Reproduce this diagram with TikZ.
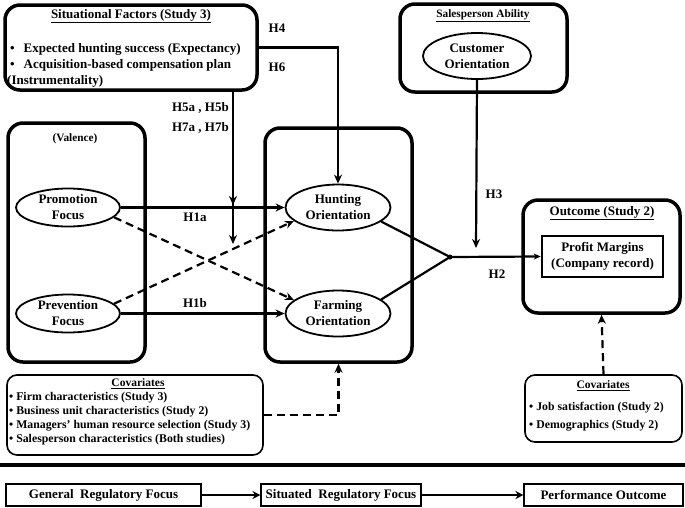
\documentclass[tikz,border=0pt]{standalone}
\usepackage{fontspec}
\setmainfont{Liberation Serif}
\usetikzlibrary{shapes.geometric,arrows.meta}
\newcommand{\fsz}[2]{\fontsize{#1}{#2}\selectfont\bfseries}
\begin{document}
\begin{tikzpicture}[x=1pt,y=-1pt,
  bigbox/.style={draw, line width=3.5pt, rounded corners=15pt, inner sep=0pt},
  covbox/.style={draw, line width=1.6pt, rounded corners=10pt, inner sep=0pt},
  plainbox/.style={draw, line width=1.1pt, inner sep=0pt, minimum height=22pt, font=\fsz{13}{15}},
  oval/.style={ellipse, draw, line width=1.8pt, align=center, inner sep=0pt, font=\fsz{13}{16}},
  conn/.style={line width=2.2pt},
  arr/.style={conn, -{Stealth[length=9pt,width=8pt]}},
  dasharr/.style={arr, dash pattern=on 8pt off 5pt},
  lbl/.style={inner sep=0pt, font=\fsz{13}{15}},
  small/.style={inner sep=0pt, anchor=west, font=\fsz{11.8}{14}}]
\useasboundingbox (0,0) rectangle (685,507);

% containers
\node[bigbox, minimum width=252pt, minimum height=85pt] (sit) at (131,47.5) {};
\node[bigbox, minimum width=137pt, minimum height=239pt] (val) at (76.5,242.5) {};
\node[bigbox, minimum width=147pt, minimum height=234pt] (mid) at (338.5,245) {};
\node[bigbox, minimum width=167pt, minimum height=88pt] (sal) at (483.5,48) {};
\node[bigbox, minimum width=157pt, minimum height=113pt] (out) at (601.5,256.5) {};
\node[covbox, minimum width=256pt, minimum height=80pt] (covL) at (135,415) {};
\node[covbox, minimum width=157pt, minimum height=67pt] (covR) at (603.5,408.5) {};
\node[draw, line width=2.5pt, minimum width=121pt, minimum height=41pt, align=center, inner sep=0pt, font=\fsz{13}{16}] (profit) at (602.5,256.5) {Profit Margins\\(Company record)};

% titles and texts
\node[lbl] (sitT) at (131,16) {\underline{Situational Factors (Study 3)}};
\node[lbl, anchor=west] (sit1) at (10,49) {\textbullet\hspace{9pt}Expected hunting success (Expectancy)};
\node[lbl, anchor=west] (sit2) at (10,65) {\textbullet\hspace{9pt}Acquisition-based compensation plan};
\node[lbl, anchor=west] (sit3) at (7,81) {(Instrumentality)};
\node[inner sep=0pt, font=\fsz{11.3}{13}] (valT) at (75,139) {(Valence)};
\node[inner sep=0pt, font=\fsz{11.3}{13}] (salT) at (483,16) {\underline{Salesperson Ability}};
\node[lbl] (outT) at (602,213) {\underline{Outcome (Study 2)}};

\node[inner sep=0pt, font=\fsz{11.5}{13}] (covLT) at (138,384) {\underline{Covariates}};
\node[small] (cl1) at (9,397.5) {\textbullet\ Firm characteristics (Study 3)};
\node[small] (cl2) at (9,411.5) {\textbullet\ Business unit characteristics (Study 2)};
\node[small] (cl3) at (9,425.5) {\textbullet\ Managers' human resource selection (Study 3)};
\node[small] (cl4) at (9,440) {\textbullet\ Salesperson characteristics (Both studies)};
\node[inner sep=0pt, font=\fsz{11.5}{13}] (covRT) at (603,386) {\underline{Covariates}};
\node[small] (cr1) at (529,408) {\textbullet\ Job satisfaction (Study 2)};
\node[small] (cr2) at (529,426) {\textbullet\ Demographics (Study 2)};

% ellipses
\node[oval, minimum width=104pt, minimum height=38pt] (promo) at (68,207.5) {Promotion\\Focus};
\node[oval, minimum width=104pt, minimum height=38pt] (prev) at (68,313.5) {Prevention\\Focus};
\node[oval, minimum width=105pt, minimum height=46pt] (hunt) at (338,207.5) {Hunting\\Orientation};
\node[oval, minimum width=105pt, minimum height=46pt] (farm) at (338,313.5) {Farming\\Orientation};
\node[oval, minimum width=108pt, minimum height=46pt] (cust) at (477,56) {Customer\\Orientation};

% hypothesis labels
\node[lbl] (h4) at (277,28) {H4};
\node[lbl] (h6) at (277,67) {H6};
\node[lbl, anchor=east] (h5) at (229,108) {H5a , H5b};
\node[lbl, anchor=east] (h7) at (229,128) {H7a , H7b};
\node[lbl] (h1a) at (195,217) {H1a};
\node[lbl] (h1b) at (195,303) {H1b};
\node[lbl] (h3) at (494,194) {H3};
\node[lbl] (h2) at (497,274) {H2};

% connectors
\coordinate (modA) at (233,205);
\coordinate (modB) at (233,244);
\coordinate (h3end) at (476,248);
\coordinate (jn) at (450,257);

\draw[arr] (sit.east) -| (hunt.north);
\draw[arr] (sit.south -| modA) -- (modA);
\draw[arr] (sit.south -| modB) -- (modB);
\draw[arr] (promo.east) -- (hunt.west);
\draw[arr] (prev.east) -- (farm.west);
\draw[dasharr] (promo.-12) -- (farm.163);
\draw[dasharr] (prev.12) -- (hunt.197);
\draw[arr] (cust.south) -- (h3end);
\draw[conn, line join=miter] (hunt.-18) -- (jn) -- (farm.18);
\fill (jn) circle (2.5pt);
\draw[conn, -{Stealth[length=7pt,width=6pt]}] (jn) -- (profit.west);
\draw[dasharr] (covR.north) -- (out.south);
\draw[dasharr] (covL.east) -| (mid.south);

% bottom legend
\draw[line width=3.5pt] (0,465) coordinate (rl) -- (685,465) coordinate (rr);
\node[plainbox, minimum width=195pt] (gen) at (103.5,495) {General\ \ Regulatory Focus};
\node[plainbox, minimum width=160pt] (sitr) at (341,495) {Situated\ \ Regulatory Focus};
\node[plainbox, minimum width=159pt] (perf) at (603.5,495) {Performance Outcome};
\draw[line width=2.4pt, -{Stealth[length=8pt,width=8pt]}] (gen.east) -- (sitr.west);
\draw[line width=2.4pt, -{Stealth[length=8pt,width=8pt]}] (sitr.east) -- (perf.west);
\end{tikzpicture}
\end{document}
